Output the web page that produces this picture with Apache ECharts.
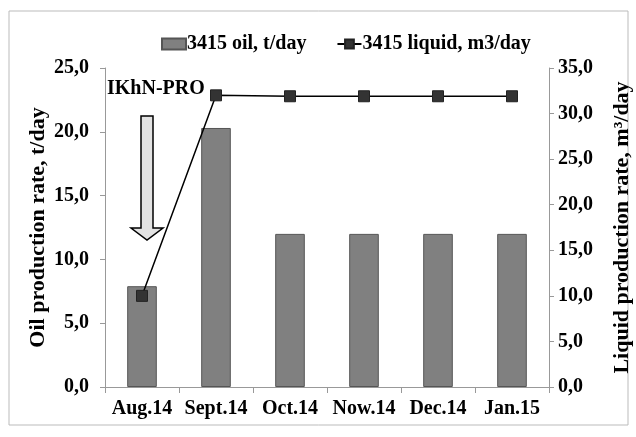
<!DOCTYPE html>
<html>
<head>
<meta charset="utf-8">
<script src="https://cdn.jsdelivr.net/npm/echarts@6/dist/echarts.min.js"></script>
<style>
  html, body { margin: 0; padding: 0; background: #fff; }
  #container { width: 636px; height: 437px; }
</style>
</head>
<body>
<div id="container"></div>
<script>
const months = ['Aug.14', 'Sept.14', 'Oct.14', 'Now.14', 'Dec.14', 'Jan.15'];
const oil = [7.9, 20.3, 12.0, 12.0, 12.0, 12.0];
const liquid = [10.0, 32.0, 31.9, 31.9, 31.9, 31.9];

const font = 'Liberation Serif';
const fmt = v => v.toFixed(1).replace('.', ',');

const myChart = echarts.init(document.getElementById('container'));
const option = {
    backgroundColor: '#fff',
    textStyle: { fontFamily: font },
    legend: {
        top: 29,
        left: 156,
        itemGap: 30,
        itemWidth: 24,
        itemHeight: 11,
        textStyle: { fontFamily: font, fontWeight: 'bold', fontSize: 20, color: '#000', padding: [0, 0, 0, -4] },
        data: [
            { name: '3415 oil, t/day', icon: 'rect' },
            { name: '3415 liquid, m3/day' }
        ]
    },
    grid: { left: 105, right: 87, top: 68, bottom: 50, outerBoundsMode: 'none', containLabel: false },
    xAxis: {
        type: 'category',
        data: months,
        axisLine: { lineStyle: { color: '#999' } },
        axisTick: { show: true, length: 6, lineStyle: { color: '#999' } },
        axisLabel: { color: '#000', fontWeight: 'bold', fontSize: 20, margin: 12, interval: 0 }
    },
    yAxis: [
        {
            type: 'value',
            min: 0, max: 25, interval: 5,
            name: 'Oil production rate, t/day',
            nameLocation: 'middle',
            nameGap: 56,
            nameMoveOverlap: false,
            nameTextStyle: { color: '#000', fontWeight: 'bold', fontSize: 22 },
            splitLine: { show: false },
            axisLine: { show: true, lineStyle: { color: '#999' } },
            axisTick: { show: true, length: 5, lineStyle: { color: '#999' } },
            axisLabel: { color: '#000', fontWeight: 'bold', fontSize: 20, margin: 16, formatter: fmt }
        },
        {
            type: 'value',
            min: 0, max: 35, interval: 5,
            name: 'Liquid production rate, m³/day',
            nameLocation: 'middle',
            nameGap: 62,
            nameRotate: 90,
            nameTextStyle: { color: '#000', fontWeight: 'bold', fontSize: 22 },
            splitLine: { show: false },
            axisLine: { show: true, lineStyle: { color: '#999' } },
            axisTick: { show: true, length: 5, lineStyle: { color: '#999' } },
            axisLabel: { color: '#000', fontWeight: 'bold', fontSize: 20, margin: 9, formatter: fmt }
        }
    ],
    series: [
        {
            name: '3415 oil, t/day',
            type: 'bar',
            data: oil,
            barWidth: '40%',
            itemStyle: { color: '#808080', borderColor: '#555', borderWidth: 1 }
        },
        {
            name: '3415 liquid, m3/day',
            type: 'line',
            yAxisIndex: 1,
            data: liquid,
            symbol: 'rect',
            symbolSize: 11,
            lineStyle: { color: '#000', width: 1.5 },
            itemStyle: { color: '#333', borderColor: '#222', borderWidth: 1 }
        }
    ],
    graphic: [
        {
            type: 'rect',
            shape: { x: 9, y: 11, width: 619, height: 414 },
            style: { fill: 'none', stroke: '#bbb', lineWidth: 1 },
            silent: true
        },
        {
            type: 'text',
            left: 107, top: 79,
            style: { text: 'IKhN-PRO', font: 'bold 20px "Liberation Serif"', fill: '#000' }
        },
        {
            type: 'polygon',
            shape: {
                points: [[141, 116], [153, 116], [153, 228], [163, 228], [147, 240], [131, 228], [141, 228]]
            },
            style: { fill: '#e3e3e3', stroke: '#000', lineWidth: 1.5 }
        }
    ]
};
myChart.setOption(option);
window.addEventListener('resize', () => {
    myChart.resize()
})
</script>
</body>
</html>
